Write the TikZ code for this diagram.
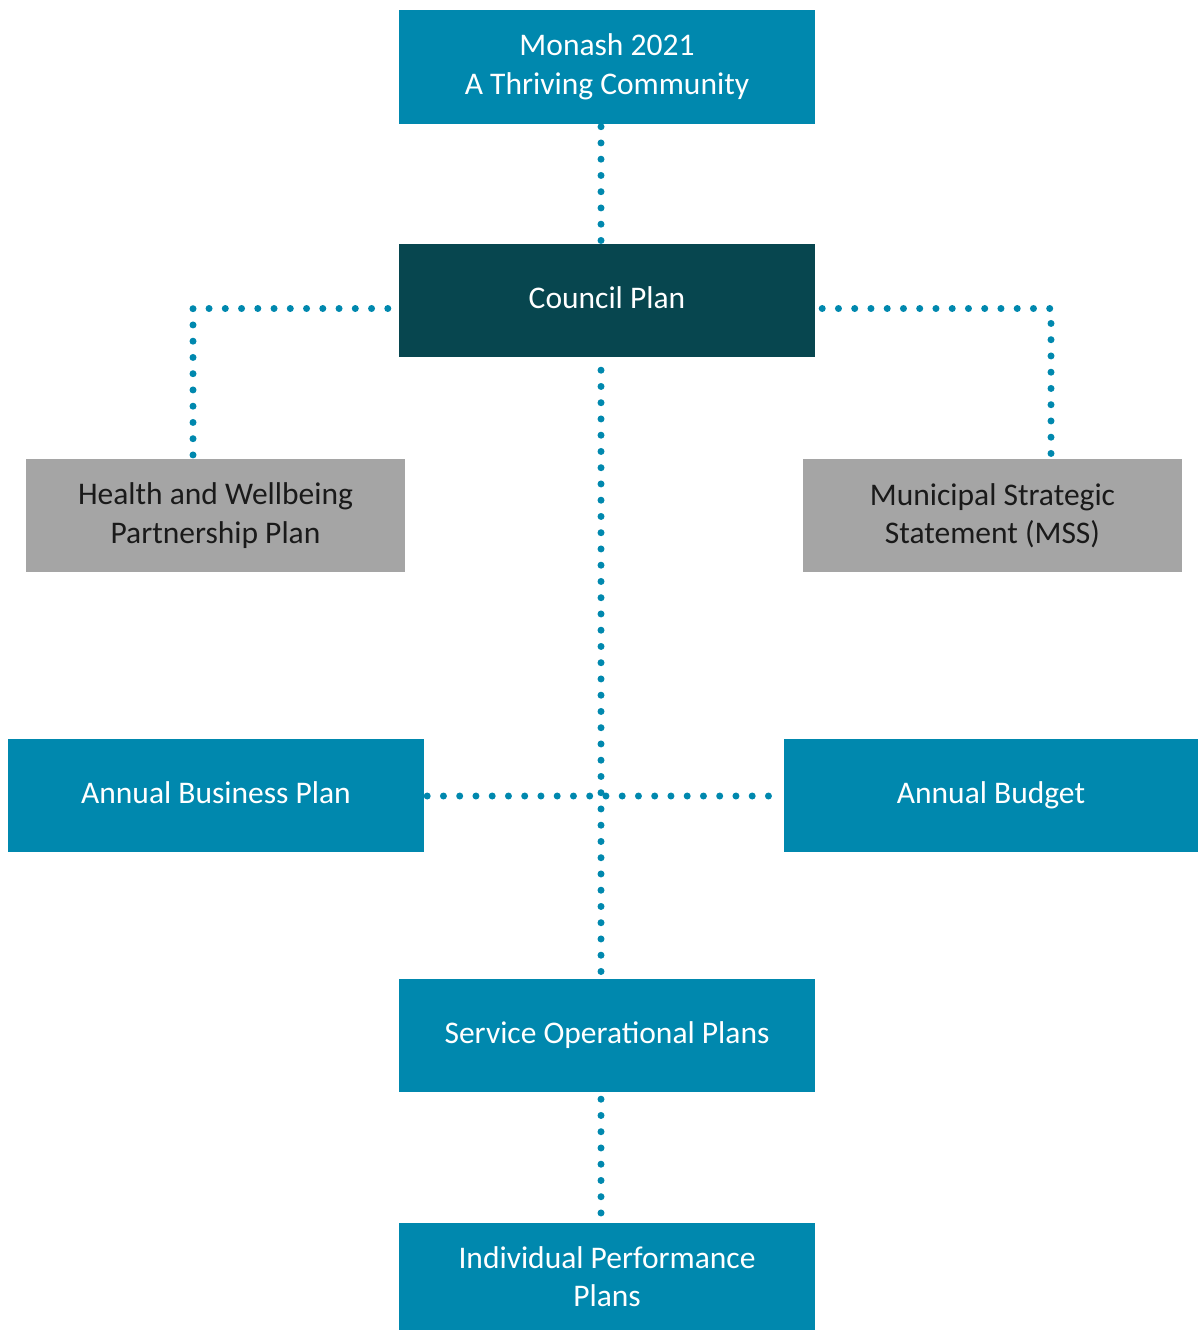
\documentclass[tikz,border=0pt]{standalone}
\usepackage{fontspec}
\setmainfont{Carlito}
\usetikzlibrary{calc}
\definecolor{cblue}{HTML}{0088AE}
\definecolor{cdark}{HTML}{07464F}
\definecolor{cgray}{HTML}{A5A5A5}
\definecolor{ctext}{HTML}{1A1A1A}
\newcommand{\ph}{\vphantom{Ag}}
\begin{document}
\begin{tikzpicture}[x=1pt,y=-1pt,
  box/.style={minimum width=416pt,minimum height=113pt,inner sep=0pt,align=center,
    font=\fontsize{31.5}{38.5}\selectfont,text=white,fill=cblue},
  graybox/.style={box,minimum width=379pt,fill=cgray,text=ctext},
  dots/.style={draw=cblue,line width=7pt,line cap=round,dash pattern=on 0pt off 16.25pt}]
\useasboundingbox (0,0) rectangle (1198,1330);
\node[box] (top) at (607,67) {Monash 2021\\A Thriving Community};
\node[box,fill=cdark] (council) at (607,300.5) {\ph Council Plan};
\node[graybox] (health) at (215.5,515.5) {Health and Wellbeing\\Partnership Plan};
\node[graybox] (mss) at (992.5,515.5) {Municipal Strategic\\Statement (MSS)};
\node[box] (abp) at (216,795.5) {\ph Annual Business Plan};
\node[box,minimum width=414pt] (budget) at (991,795.5) {\ph Annual Budget};
\node[box] (sop) at (607,1035.5) {\ph Service Operational Plans};
\node[box,minimum height=107pt] (ipp) at (607,1276.5) {Individual Performance\\Plans};
\draw[dots] ($(top.south)+(-6,3)$) -- ($(council.north)+(-6,-2)$);
\draw[dots] ($(council.west)+(-11,8)$) -| ($(health.north)+(-22.5,-3)$);
\draw[dots] ($(council.east)+(7,8)$) -| ($(mss.north)+(58.5,-3)$);
\draw[dots] ($(council.south)+(-6,13)$) -- ($(sop.north)+(-6,-7)$);
\draw[dots] ($(abp.east)+(3,0.5)$) -- ($(budget.west)+(-2,0.5)$);
\draw[dots] ($(sop.south)+(-6,7)$) -- ($(ipp.north)+(-6,-6)$);
\end{tikzpicture}
\end{document}
